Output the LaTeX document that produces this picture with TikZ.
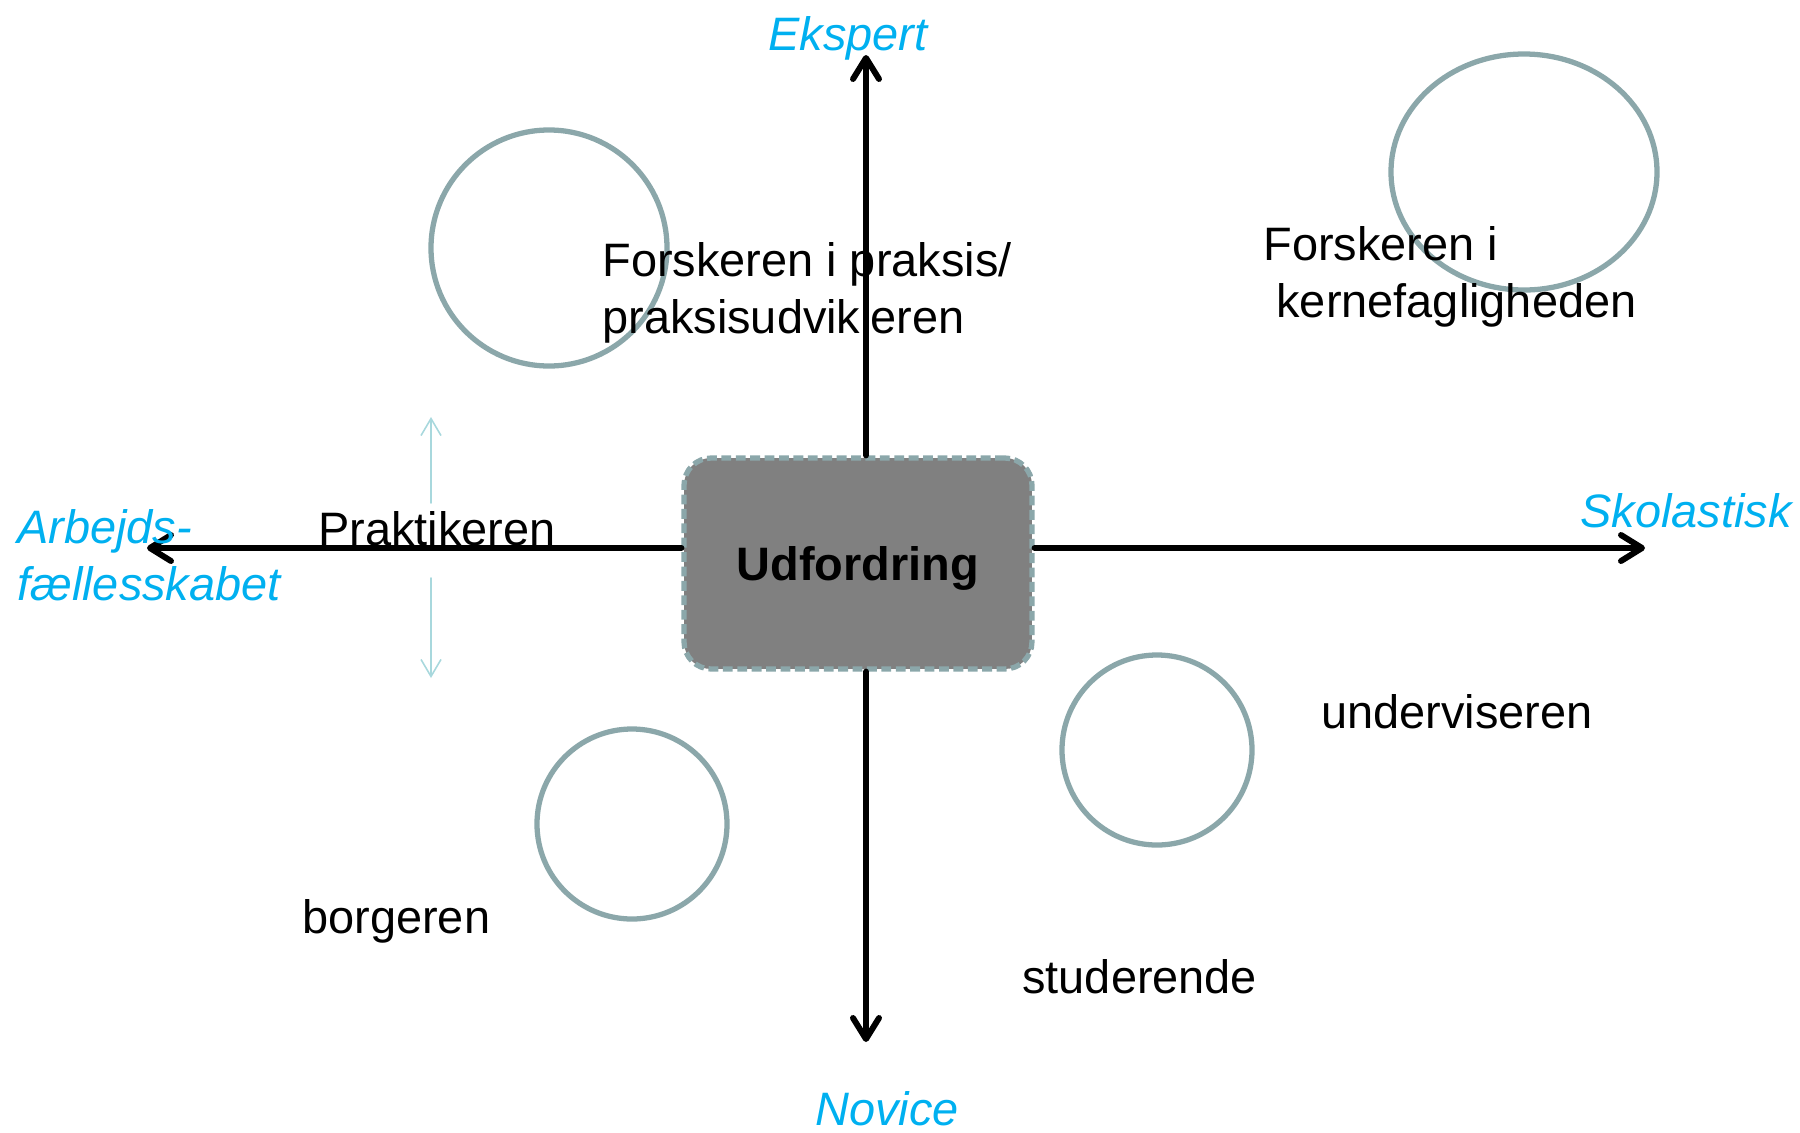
\documentclass[tikz,border=0pt]{standalone}
\usepackage{fontspec}
\setmainfont{Liberation Sans}
\usetikzlibrary{arrows.meta}
\definecolor{axislabel}{RGB}{0,176,240}
\definecolor{ringgray}{RGB}{139,167,170}
\definecolor{boxgray}{RGB}{128,128,128}
\definecolor{paleline}{RGB}{168,216,221}
\tikzset{
  lbl/.style={font=\fontsize{26.7}{32.4}\selectfont,inner sep=0pt,align=left},
  axlbl/.style={lbl,text=axislabel,font=\fontsize{26.7}{32.4}\selectfont\itshape},
  ring/.style={draw=ringgray,line width=3pt},
  axis/.style={->,line width=3.4pt},
  pale/.style={draw=paleline,line width=0.9pt,-{Straight Barb[length=3.4mm,width=4mm]}},
  centerbox/.style={draw=ringgray,fill=boxgray,line width=3pt,line cap=butt,dash pattern=on 5.6pt off 2.6pt,rounded corners=0.54cm,minimum width=6.96cm,minimum height=4.22cm,font=\fontsize{26.7}{32}\selectfont\bfseries,text depth=0pt}
}
\begin{document}
\begin{tikzpicture}[line cap=round,line join=round,>={Straight Barb[round,length=4.2mm,width=5.2mm]},x=0.02cm,y=-0.02cm]
\useasboundingbox (0,0) rectangle (1800,1133);
\foreach \cx/\cy/\rx/\ry in {549/248/118/118,1524/172/133/118,632/824/95/95,1157/750/95/95}
\draw[ring] (\cx,\cy) ellipse ({\rx} and {\ry});
\node[centerbox] (udf) at (858,563.5) {Udfordring};
\coordinate (ekspEnd) at (866,55);
\coordinate (noviEnd) at (866,1042);
\coordinate (arbEnd) at (147,548);
\coordinate (skolEnd) at (1645,548);
\draw[axis] (udf.north -| ekspEnd) -- (ekspEnd);
\draw[axis] (udf.south -| noviEnd) -- (noviEnd);
\draw[axis] (udf.west |- arbEnd) -- (arbEnd);
\draw[axis] (udf.east |- skolEnd) -- (skolEnd);
\coordinate (upFrom) at (431,503);
\coordinate (upTo) at (431,417);
\coordinate (downFrom) at (431,578);
\coordinate (downTo) at (431,678);
\draw[pale] (upFrom) -- (upTo);
\draw[pale] (downFrom) -- (downTo);
\node[axlbl,anchor=base west] (eksp) at (768,50) {Ekspert};
\node[axlbl,anchor=base west] (novi) at (815,1125) {Novice};
\node[axlbl,anchor=base west] (skol) at (1580,527) {Skolastisk};
\node[axlbl,anchor=base west] (arb) at (17,600) {Arbejds-\\fællesskabet};
\node[lbl,anchor=base west] (forskP) at (602,333) {Forskeren i praksis/\\praksisudvikleren};
\node[lbl,anchor=base west] (forskK) at (1263,317) {Forskeren i\\\hspace*{0.28em}kernefagligheden};
\node[lbl,anchor=base west] (prak) at (318,545) {Praktikeren};
\node[lbl,anchor=base west] (underv) at (1321,728) {underviseren};
\node[lbl,anchor=base west] (borg) at (302,933) {borgeren};
\node[lbl,anchor=base west] (stud) at (1022,993) {studerende};
\end{tikzpicture}
\end{document}
